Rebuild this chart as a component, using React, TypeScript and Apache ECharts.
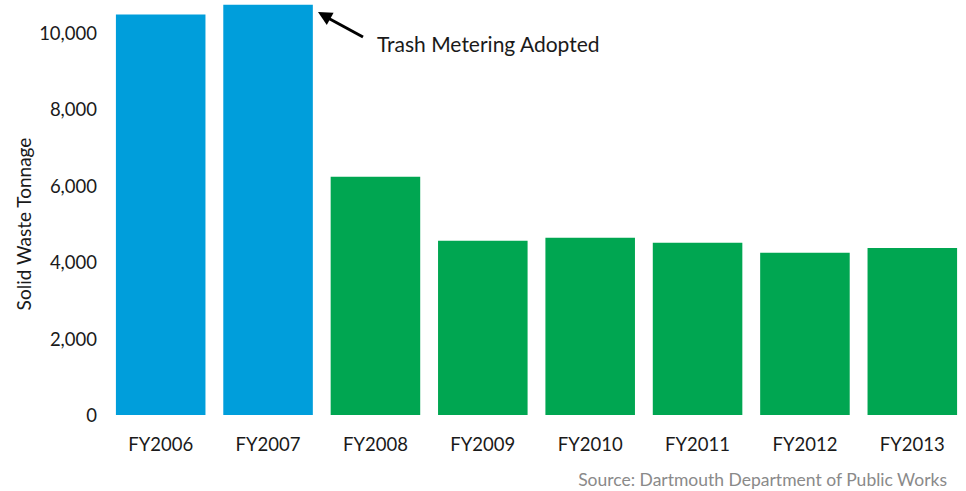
import React, { useEffect, useRef } from "react";
import * as echarts from "echarts";

const categories = ["FY2006", "FY2007", "FY2008", "FY2009", "FY2010", "FY2011", "FY2012", "FY2013"];
const tonnage = [10470, 10730, 6230, 4555, 4635, 4505, 4240, 4370];
const barColors = ["#009EDB", "#009EDB", "#00A651", "#00A651", "#00A651", "#00A651", "#00A651", "#00A651"];
const yAxisTitle = "Solid Waste Tonnage";
const annotationText = "Trash Metering Adopted";
const sourceText = "Source: Dartmouth Department of Public Works";

const FONT = "Lato, 'Noto Sans', sans-serif";

export default function App() {
  const ref = useRef<HTMLDivElement>(null);
  useEffect(() => {
    if (!ref.current) return;
    const chart = echarts.init(ref.current, undefined, { renderer: "svg" });
    chart.setOption({
      animation: false,
      backgroundColor: "#ffffff",
      grid: { left: 107, right: -4, top: 2, bottom: 76, containLabel: false },
      xAxis: {
        type: "category",
        data: categories,
        axisLine: { show: false },
        axisTick: { show: false },
        axisLabel: { color: "#1a1a1a", fontSize: 18.5, fontFamily: FONT, margin: 19 },
      },
      yAxis: {
        type: "value",
        min: 0,
        max: 10800,
        interval: 2000,
        axisLine: { show: false },
        axisTick: { show: false },
        splitLine: { show: false },
        axisLabel: {
          color: "#1a1a1a",
          fontSize: 18.5,
          fontFamily: FONT,
          margin: 10,
          showMaxLabel: false,
          formatter: (v: number) => (v % 2000 === 0 ? v.toLocaleString("en-US") : ""),
        },
      },
      series: [
        {
          type: "bar",
          data: tonnage.map((v, i) => ({ value: v, itemStyle: { color: barColors[i] } })),
          barCategoryGap: "16.6%",
        },
      ],
      graphic: [
        {
          type: "text",
          x: 23,
          y: 224,
          rotation: Math.PI / 2,
          style: { text: yAxisTitle, fill: "#1a1a1a", fontSize: 19, fontFamily: FONT, align: "center", verticalAlign: "middle" },
        },
        {
          type: "line",
          shape: { x1: 363, y1: 37, x2: 328, y2: 18 },
          style: { stroke: "#000", lineWidth: 3 },
        },
        {
          type: "polygon",
          shape: { points: [[318, 12], [333.6, 12.7], [326.8, 24.9]] },
          style: { fill: "#000" },
        },
        {
          type: "text",
          x: 377,
          y: 43,
          style: { text: annotationText, fill: "#1a1a1a", fontSize: 21, fontFamily: FONT, verticalAlign: "middle" },
        },
        {
          type: "text",
          x: 947,
          y: 479,
          style: { text: sourceText, fill: "#8a8a8a", fontSize: 17.5, fontFamily: FONT, align: "right", verticalAlign: "middle" },
        },
      ],
    });
    return () => chart.dispose();
  }, []);
  return <div ref={ref} style={{ position: "fixed", left: 0, top: 0, width: 966, height: 491 }} />;
}
